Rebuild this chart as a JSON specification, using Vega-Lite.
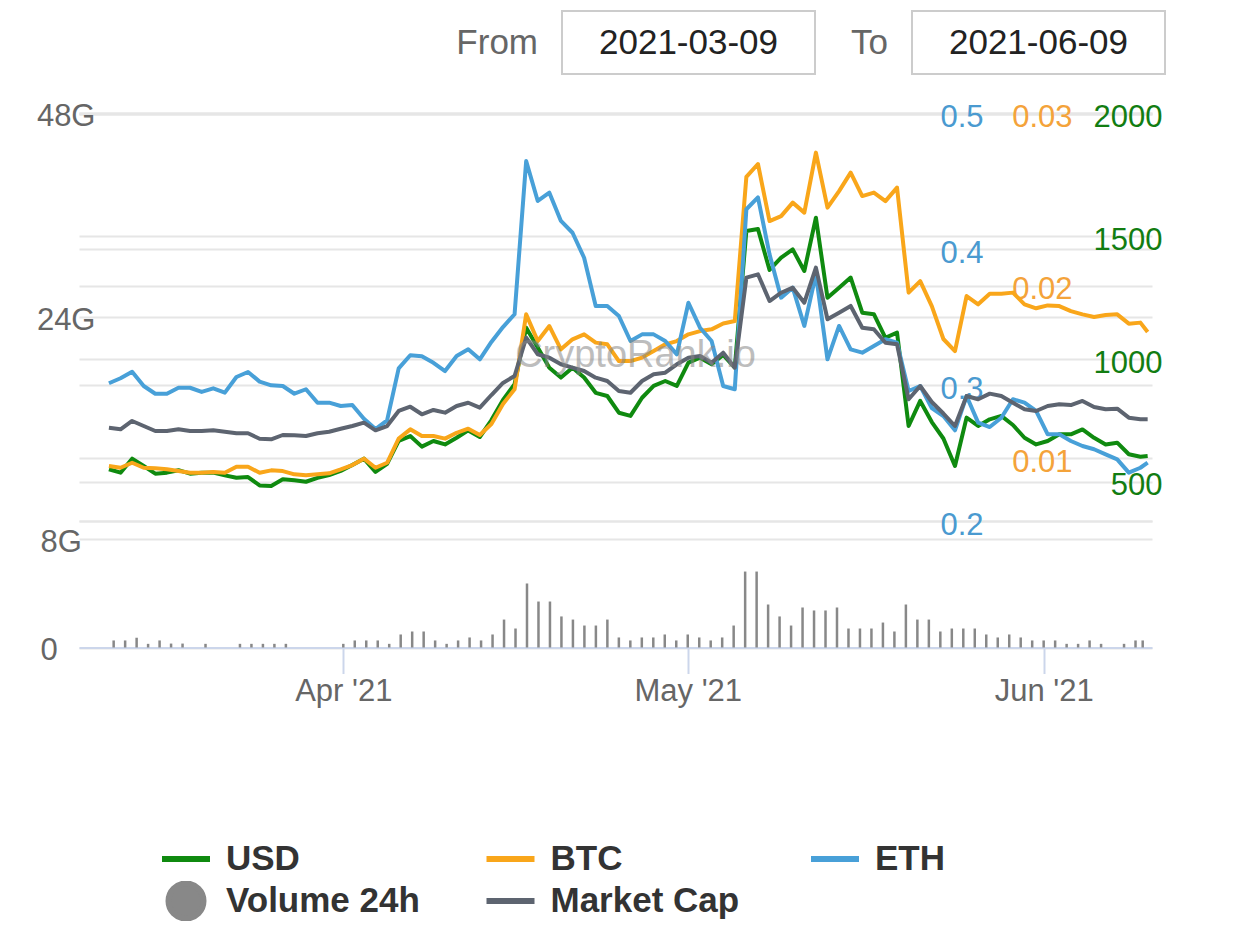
{
  "$schema": "https://vega.github.io/schema/vega-lite/v6.json",
  "background": "white",
  "padding": {"left": 36, "top": 10, "right": 5, "bottom": 5},
  "datasets": {
    "bch": [
      {"d": "2021-03-12", "usd": 552, "btc": 0.00955, "eth": 0.3014, "mcap": 10.99, "vol": 0.52},
      {"d": "2021-03-13", "usd": 538, "btc": 0.00945, "eth": 0.3051, "mcap": 10.80, "vol": 0.52},
      {"d": "2021-03-14", "usd": 595, "btc": 0.00974, "eth": 0.3099, "mcap": 11.78, "vol": 0.72},
      {"d": "2021-03-15", "usd": 565, "btc": 0.00945, "eth": 0.2994, "mcap": 11.19, "vol": 0.27},
      {"d": "2021-03-16", "usd": 534, "btc": 0.00942, "eth": 0.2937, "mcap": 10.60, "vol": 0.52},
      {"d": "2021-03-17", "usd": 538, "btc": 0.00936, "eth": 0.2937, "mcap": 10.60, "vol": 0.29},
      {"d": "2021-03-18", "usd": 548, "btc": 0.00926, "eth": 0.2981, "mcap": 10.80, "vol": 0.29},
      {"d": "2021-03-19", "usd": 534, "btc": 0.00916, "eth": 0.2981, "mcap": 10.60, "vol": null},
      {"d": "2021-03-20", "usd": 538, "btc": 0.00916, "eth": 0.2950, "mcap": 10.60, "vol": 0.27},
      {"d": "2021-03-21", "usd": 538, "btc": 0.00921, "eth": 0.2977, "mcap": 10.68, "vol": null},
      {"d": "2021-03-22", "usd": 527, "btc": 0.00916, "eth": 0.2945, "mcap": 10.52, "vol": null},
      {"d": "2021-03-23", "usd": 517, "btc": 0.00951, "eth": 0.3060, "mcap": 10.33, "vol": 0.27},
      {"d": "2021-03-24", "usd": 520, "btc": 0.00951, "eth": 0.3097, "mcap": 10.33, "vol": 0.27},
      {"d": "2021-03-25", "usd": 486, "btc": 0.00916, "eth": 0.3026, "mcap": 9.69, "vol": 0.27},
      {"d": "2021-03-26", "usd": 484, "btc": 0.00930, "eth": 0.2999, "mcap": 9.62, "vol": 0.27},
      {"d": "2021-03-27", "usd": 511, "btc": 0.00926, "eth": 0.2994, "mcap": 10.13, "vol": 0.27},
      {"d": "2021-03-28", "usd": 507, "btc": 0.00907, "eth": 0.2937, "mcap": 10.09, "vol": null},
      {"d": "2021-03-29", "usd": 501, "btc": 0.00901, "eth": 0.2970, "mcap": 10.01, "vol": null},
      {"d": "2021-03-30", "usd": 517, "btc": 0.00907, "eth": 0.2871, "mcap": 10.33, "vol": null},
      {"d": "2021-03-31", "usd": 528, "btc": 0.00913, "eth": 0.2871, "mcap": 10.52, "vol": null},
      {"d": "2021-04-01", "usd": 545, "btc": 0.00936, "eth": 0.2847, "mcap": 10.87, "vol": 0.27},
      {"d": "2021-04-02", "usd": 569, "btc": 0.00961, "eth": 0.2854, "mcap": 11.19, "vol": 0.52},
      {"d": "2021-04-03", "usd": 595, "btc": 0.00998, "eth": 0.2753, "mcap": 11.58, "vol": 0.52},
      {"d": "2021-04-04", "usd": 541, "btc": 0.00945, "eth": 0.2677, "mcap": 10.68, "vol": 0.52},
      {"d": "2021-04-05", "usd": 574, "btc": 0.00974, "eth": 0.2741, "mcap": 11.19, "vol": 0.27},
      {"d": "2021-04-06", "usd": 667, "btc": 0.01114, "eth": 0.3124, "mcap": 12.96, "vol": 0.96},
      {"d": "2021-04-07", "usd": 687, "btc": 0.01168, "eth": 0.3220, "mcap": 13.46, "vol": 1.18},
      {"d": "2021-04-08", "usd": 644, "btc": 0.01129, "eth": 0.3213, "mcap": 12.57, "vol": 1.18},
      {"d": "2021-04-09", "usd": 667, "btc": 0.01129, "eth": 0.3165, "mcap": 13.08, "vol": 0.52},
      {"d": "2021-04-10", "usd": 653, "btc": 0.01114, "eth": 0.3104, "mcap": 12.76, "vol": 0.27},
      {"d": "2021-04-11", "usd": 680, "btc": 0.01148, "eth": 0.3215, "mcap": 13.55, "vol": 0.52},
      {"d": "2021-04-12", "usd": 710, "btc": 0.01172, "eth": 0.3264, "mcap": 13.93, "vol": 0.74},
      {"d": "2021-04-13", "usd": 683, "btc": 0.01135, "eth": 0.3190, "mcap": 13.35, "vol": 0.52},
      {"d": "2021-04-14", "usd": 752, "btc": 0.01199, "eth": 0.3318, "mcap": 14.84, "vol": 0.96},
      {"d": "2021-04-15", "usd": 834, "btc": 0.01315, "eth": 0.3428, "mcap": 16.26, "vol": 2.06},
      {"d": "2021-04-16", "usd": 898, "btc": 0.01400, "eth": 0.3522, "mcap": 17.08, "vol": 1.40},
      {"d": "2021-04-17", "usd": 1128, "btc": 0.01835, "eth": 0.4650, "mcap": 21.59, "vol": 4.72},
      {"d": "2021-04-18", "usd": 1047, "btc": 0.01680, "eth": 0.4356, "mcap": 19.64, "vol": 3.39},
      {"d": "2021-04-19", "usd": 965, "btc": 0.01767, "eth": 0.4417, "mcap": 19.24, "vol": 3.39},
      {"d": "2021-04-20", "usd": 925, "btc": 0.01632, "eth": 0.4209, "mcap": 18.46, "vol": 2.29},
      {"d": "2021-04-21", "usd": 965, "btc": 0.01690, "eth": 0.4122, "mcap": 18.06, "vol": 2.06},
      {"d": "2021-04-22", "usd": 925, "btc": 0.01719, "eth": 0.3938, "mcap": 17.67, "vol": 1.62},
      {"d": "2021-04-23", "usd": 863, "btc": 0.01671, "eth": 0.3583, "mcap": 16.88, "vol": 1.62},
      {"d": "2021-04-24", "usd": 850, "btc": 0.01661, "eth": 0.3583, "mcap": 16.49, "vol": 2.06},
      {"d": "2021-04-25", "usd": 782, "btc": 0.01564, "eth": 0.3509, "mcap": 15.31, "vol": 0.74},
      {"d": "2021-04-26", "usd": 769, "btc": 0.01564, "eth": 0.3325, "mcap": 15.11, "vol": 0.52},
      {"d": "2021-04-27", "usd": 843, "btc": 0.01584, "eth": 0.3374, "mcap": 16.49, "vol": 0.74},
      {"d": "2021-04-28", "usd": 891, "btc": 0.01622, "eth": 0.3374, "mcap": 17.28, "vol": 0.74},
      {"d": "2021-04-29", "usd": 911, "btc": 0.01661, "eth": 0.3325, "mcap": 17.47, "vol": 0.96},
      {"d": "2021-04-30", "usd": 891, "btc": 0.01680, "eth": 0.3227, "mcap": 18.46, "vol": 0.52},
      {"d": "2021-05-01", "usd": 986, "btc": 0.01719, "eth": 0.3607, "mcap": 19.24, "vol": 0.96},
      {"d": "2021-05-02", "usd": 1006, "btc": 0.01738, "eth": 0.3423, "mcap": 19.44, "vol": 0.74},
      {"d": "2021-05-03", "usd": 979, "btc": 0.01748, "eth": 0.3325, "mcap": 18.65, "vol": 0.52},
      {"d": "2021-05-04", "usd": 1017, "btc": 0.01782, "eth": 0.2994, "mcap": 19.82, "vol": 0.74},
      {"d": "2021-05-05", "usd": 965, "btc": 0.01796, "eth": 0.2970, "mcap": 18.06, "vol": 1.62},
      {"d": "2021-05-06", "usd": 1522, "btc": 0.02632, "eth": 0.4295, "mcap": 28.66, "vol": 5.60},
      {"d": "2021-05-07", "usd": 1530, "btc": 0.02707, "eth": 0.4382, "mcap": 29.06, "vol": 5.60},
      {"d": "2021-05-08", "usd": 1363, "btc": 0.02376, "eth": 0.3963, "mcap": 25.91, "vol": 3.17},
      {"d": "2021-05-09", "usd": 1413, "btc": 0.02405, "eth": 0.3644, "mcap": 26.89, "vol": 2.29},
      {"d": "2021-05-10", "usd": 1447, "btc": 0.02483, "eth": 0.3718, "mcap": 27.48, "vol": 1.62},
      {"d": "2021-05-11", "usd": 1359, "btc": 0.02425, "eth": 0.3436, "mcap": 25.71, "vol": 2.95},
      {"d": "2021-05-12", "usd": 1576, "btc": 0.02773, "eth": 0.3816, "mcap": 29.84, "vol": 2.73},
      {"d": "2021-05-13", "usd": 1250, "btc": 0.02454, "eth": 0.3190, "mcap": 23.76, "vol": 2.73},
      {"d": "2021-05-14", "usd": 1291, "btc": 0.02550, "eth": 0.3436, "mcap": 24.54, "vol": 2.95},
      {"d": "2021-05-15", "usd": 1332, "btc": 0.02657, "eth": 0.3264, "mcap": 25.33, "vol": 1.40},
      {"d": "2021-05-16", "usd": 1189, "btc": 0.02521, "eth": 0.3239, "mcap": 22.77, "vol": 1.40},
      {"d": "2021-05-17", "usd": 1183, "btc": 0.02541, "eth": 0.3288, "mcap": 22.58, "vol": 1.40},
      {"d": "2021-05-18", "usd": 1087, "btc": 0.02492, "eth": 0.3338, "mcap": 21.00, "vol": 1.84},
      {"d": "2021-05-19", "usd": 1108, "btc": 0.02570, "eth": 0.3313, "mcap": 20.81, "vol": 1.18},
      {"d": "2021-05-20", "usd": 728, "btc": 0.01961, "eth": 0.2957, "mcap": 14.34, "vol": 3.17},
      {"d": "2021-05-21", "usd": 830, "btc": 0.02028, "eth": 0.2994, "mcap": 15.90, "vol": 2.06},
      {"d": "2021-05-22", "usd": 744, "btc": 0.01883, "eth": 0.2832, "mcap": 14.02, "vol": 2.06},
      {"d": "2021-05-23", "usd": 677, "btc": 0.01692, "eth": 0.2773, "mcap": 12.66, "vol": 1.18},
      {"d": "2021-05-24", "usd": 565, "btc": 0.01622, "eth": 0.2668, "mcap": 11.19, "vol": 1.40},
      {"d": "2021-05-25", "usd": 762, "btc": 0.01941, "eth": 0.2920, "mcap": 14.72, "vol": 1.40},
      {"d": "2021-05-26", "usd": 728, "btc": 0.01893, "eth": 0.2724, "mcap": 14.34, "vol": 1.40},
      {"d": "2021-05-27", "usd": 755, "btc": 0.01955, "eth": 0.2692, "mcap": 15.00, "vol": 0.96},
      {"d": "2021-05-28", "usd": 769, "btc": 0.01955, "eth": 0.2760, "mcap": 14.72, "vol": 0.74},
      {"d": "2021-05-29", "usd": 732, "btc": 0.01961, "eth": 0.2896, "mcap": 13.93, "vol": 0.96},
      {"d": "2021-05-30", "usd": 680, "btc": 0.01893, "eth": 0.2871, "mcap": 13.16, "vol": 0.74},
      {"d": "2021-05-31", "usd": 653, "btc": 0.01870, "eth": 0.2810, "mcap": 12.96, "vol": 0.52},
      {"d": "2021-06-01", "usd": 667, "btc": 0.01887, "eth": 0.2638, "mcap": 13.55, "vol": 0.52},
      {"d": "2021-06-02", "usd": 694, "btc": 0.01883, "eth": 0.2638, "mcap": 13.75, "vol": 0.52},
      {"d": "2021-06-03", "usd": 694, "btc": 0.01854, "eth": 0.2589, "mcap": 13.66, "vol": 0.27},
      {"d": "2021-06-04", "usd": 714, "btc": 0.01835, "eth": 0.2552, "mcap": 14.14, "vol": 0.27},
      {"d": "2021-06-05", "usd": 680, "btc": 0.01820, "eth": 0.2528, "mcap": 13.43, "vol": 0.52},
      {"d": "2021-06-06", "usd": 653, "btc": 0.01831, "eth": 0.2491, "mcap": 13.16, "vol": 0.27},
      {"d": "2021-06-07", "usd": 660, "btc": 0.01835, "eth": 0.2454, "mcap": 13.23, "vol": null},
      {"d": "2021-06-08", "usd": 613, "btc": 0.01781, "eth": 0.2356, "mcap": 12.17, "vol": 0.27},
      {"d": "2021-06-09", "usd": 603, "btc": 0.01787, "eth": 0.2392, "mcap": 11.98, "vol": 0.52},
      {"d": "2021-06-09T15:00:00Z", "usd": 606, "btc": 0.01733, "eth": 0.2429, "mcap": 11.98, "vol": 0.52}
    ]
  },
  "vconcat": [
    {
      "width": 1086,
      "height": 63,
      "data": {"values": [{"label": "From", "date": "2021-03-09"}, {"label": "To", "date": "2021-06-09"}]},
      "encoding": {
        "x": {
          "field": "label",
          "type": "nominal",
          "sort": null,
          "scale": {"paddingInner": 0.2771, "paddingOuter": 0.69, "align": 1},
          "axis": {
            "orient": "top", "offset": -31.5, "title": null, "domain": false, "ticks": false,
            "labelPadding": 0, "labelAngle": 0, "labelAlign": "right", "labelBaseline": "middle",
            "labelOffset": -150.5, "labelFontSize": 35, "labelColor": "#666666"
          }
        }
      },
      "layer": [
        {"mark": {"type": "rect", "fill": "white", "stroke": "#cccccc", "strokeWidth": 2}},
        {"mark": {"type": "text", "fontSize": 35, "color": "#222222"}, "encoding": {"text": {"field": "date"}}}
      ]
    },
    {
      "width": 1073,
      "height": 429,
      "data": {"name": "bch"},
      "layer": [
        {
          "mark": {"type": "line", "strokeWidth": 4, "strokeJoin": "round"},
          "encoding": {
            "x": {"field": "d", "type": "temporal", "scale": {"type": "utc", "domain": [{"year": 2021, "month": 3, "date": 9, "hours": 10, "utc": true}, {"year": 2021, "month": 6, "date": 10, "utc": true}]}, "axis": null},
            "y": {
              "field": "usd", "type": "quantitative",
              "scale": {"domain": [341.2, 2087.5], "nice": false, "zero": false},
              "axis": {"orient": "right", "offset": 10, "labelAlign": "right", "values": [500, 1000, 1500, 2000], "format": "d", "title": null, "grid": true, "domain": false, "ticks": false, "labelPadding": 0, "labelOffset": 4, "labelBaseline": "middle", "labelFontSize": 31, "labelColor": "#127d12"}
            },
            "color": {
              "datum": "USD", "type": "nominal",
              "scale": {"domain": ["USD", "BTC", "ETH", "Volume 24h", "Market Cap"], "range": ["#0f8a0f", "#f9a61a", "#48a0d8", "#888888", "#5d6470"]},
              "legend": {
                "orient": "none", "legendX": 80, "legendY": 828, "title": null,
                "columns": 3, "direction": "horizontal", "gridAlign": "all",
                "columnPadding": 63.5, "rowPadding": 2, "clipHeight": 40, "symbolSize": 1225, "symbolStrokeWidth": 6,
                "labelOffset": 13, "labelFontSize": 35, "labelFontWeight": "bold", "labelColor": "#333333", "labelLimit": 400,
                "encode": {
                  "symbols": {
                    "update": {
                      "shape": {"signal": "datum.label === 'Volume 24h' ? 'circle' : 'stroke'"},
                      "size": {"signal": "datum.label === 'Volume 24h' ? 1225 : 2304"},
                      "fill": {"signal": "datum.label === 'Volume 24h' ? '#888888' : 'transparent'"},
                      "stroke": {"signal": "datum.label === 'USD' ? '#0f8a0f' : datum.label === 'BTC' ? '#f9a61a' : datum.label === 'ETH' ? '#48a0d8' : datum.label === 'Market Cap' ? '#5d6470' : 'transparent'"},
                      "strokeWidth": {"value": 6},
                      "opacity": {"value": 1}
                    }
                  }
                }
              }
            }
          }
        },
        {
          "mark": {"type": "line", "strokeWidth": 4, "strokeJoin": "round"},
          "encoding": {
            "x": {"field": "d", "type": "temporal", "scale": {"type": "utc", "domain": [{"year": 2021, "month": 3, "date": 9, "hours": 10, "utc": true}, {"year": 2021, "month": 6, "date": 10, "utc": true}]}, "axis": null},
            "y": {
              "field": "btc", "type": "quantitative",
              "scale": {"domain": [0.006363, 0.031247], "nice": false, "zero": false},
              "axis": {"orient": "right", "offset": -80, "labelAlign": "right", "values": [0.01, 0.02, 0.03], "format": ".2f", "title": null, "grid": true, "domain": false, "ticks": false, "labelPadding": 0, "labelOffset": 4, "labelBaseline": "middle", "labelFontSize": 31, "labelColor": "#f4a33a"}
            },
            "color": {"datum": "BTC", "type": "nominal"}
          }
        },
        {
          "mark": {"type": "line", "strokeWidth": 4, "strokeJoin": "round"},
          "encoding": {
            "x": {"field": "d", "type": "temporal", "scale": {"type": "utc", "domain": [{"year": 2021, "month": 3, "date": 9, "hours": 10, "utc": true}, {"year": 2021, "month": 6, "date": 10, "utc": true}]}, "axis": null},
            "y": {
              "field": "eth", "type": "quantitative",
              "scale": {"domain": [0.2, 0.51583], "nice": false, "zero": false},
              "axis": {"orient": "right", "offset": -169, "labelAlign": "right", "values": [0.2, 0.3, 0.4, 0.5], "format": ".1f", "title": null, "grid": true, "domain": false, "ticks": false, "labelPadding": 0, "labelOffset": 4, "labelBaseline": "middle", "labelFontSize": 31, "labelColor": "#4a9ad0"}
            },
            "color": {"datum": "ETH", "type": "nominal"}
          }
        },
        {
          "mark": {"type": "line", "strokeWidth": 4, "strokeJoin": "round"},
          "encoding": {
            "x": {"field": "d", "type": "temporal", "scale": {"type": "utc", "domain": [{"year": 2021, "month": 3, "date": 9, "hours": 10, "utc": true}, {"year": 2021, "month": 6, "date": 10, "utc": true}]}, "axis": null},
            "y": {
              "field": "mcap", "type": "quantitative",
              "scale": {"domain": [0, 50.533], "nice": false, "zero": false},
              "axis": {"orient": "left", "offset": -16, "values": [0, 24, 48], "labelExpr": "datum.value == 0 ? '' : datum.value + 'G'", "title": null, "grid": true, "domain": false, "ticks": false, "labelPadding": 0, "labelOffset": 3, "labelBaseline": "middle", "labelFontSize": 31, "labelColor": "#666666"}
            },
            "color": {"datum": "Market Cap", "type": "nominal"}
          }
        },
        {
          "data": {"values": [{"w": "CryptoRank.io"}]},
          "mark": {"type": "text", "fontSize": 38, "color": "#888888", "opacity": 0.55, "dx": 20, "dy": 49},
          "encoding": {"text": {"field": "w"}}
        }
      ],
      "resolve": {"scale": {"y": "independent"}, "axis": {"y": "independent"}}
    },
    {
      "width": 1073,
      "height": 108.5,
      "data": {"name": "bch"},
      "mark": {"type": "bar", "width": 2.5},
      "encoding": {
        "x": {
          "field": "d", "type": "temporal",
          "scale": {"type": "utc", "domain": [{"year": 2021, "month": 3, "date": 9, "hours": 10, "utc": true}, {"year": 2021, "month": 6, "date": 10, "utc": true}]},
          "axis": {
            "values": [{"year": 2021, "month": 4, "date": 1, "utc": true}, {"year": 2021, "month": 5, "date": 1, "utc": true}, {"year": 2021, "month": 6, "date": 1, "utc": true}],
            "format": "%b '%y", "title": null, "grid": false,
            "domainColor": "#ccd6eb", "domainWidth": 2, "tickColor": "#ccd6eb", "tickWidth": 2, "tickSize": 26,
            "labelPadding": 3, "labelFontSize": 31, "labelColor": "#666666"
          }
        },
        "y": {
          "field": "vol", "type": "quantitative",
          "scale": {"domain": [0, 8], "nice": false},
          "axis": {"orient": "left", "offset": 39, "labelAlign": "left", "values": [0, 8], "labelExpr": "datum.value == 0 ? '0' : datum.value + 'G'", "title": null, "grid": true, "domain": false, "ticks": false, "labelPadding": 0, "labelOffset": 3, "labelBaseline": "middle", "labelFontSize": 31, "labelColor": "#666666"}
        },
        "color": {"datum": "Volume 24h", "type": "nominal"}
      }
    }
  ],
  "spacing": 18,
  "bounds": "flush",
  "config": {
    "font": "Liberation Sans",
    "view": {"stroke": null},
    "axis": {"labelFont": "Liberation Sans", "gridColor": "#e6e6e6", "gridWidth": 2, "labelFlush": false, "labelOverlap": false},
    "legend": {"labelFont": "Liberation Sans"},
    "text": {"font": "Liberation Sans"}
  }
}
